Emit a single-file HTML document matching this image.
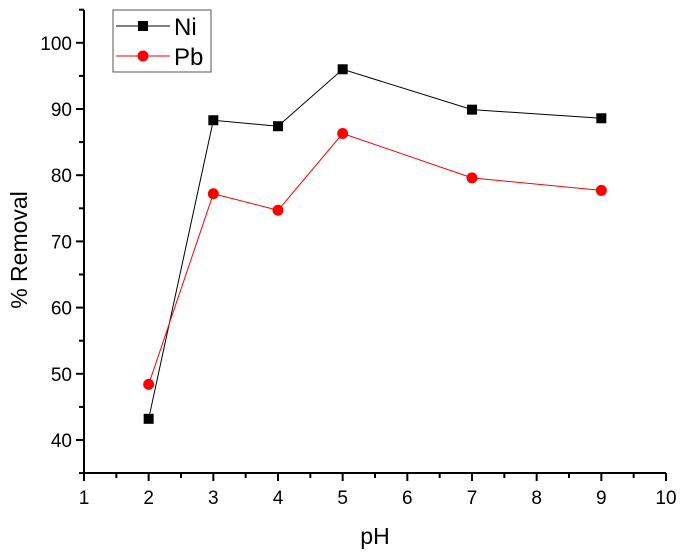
<!DOCTYPE html>
<html><head><meta charset="utf-8"><style>
html,body{margin:0;padding:0;background:#fff}
svg{display:block;font-family:"Liberation Sans",Arial,sans-serif}
</style></head><body>
<svg id="chart" width="685" height="557"></svg>
<script>
const xCats=[2,3,4,5,7,9];
const niVals=[43.2,88.3,87.4,96.0,89.9,88.6];
const pbVals=[48.4,77.2,74.7,86.3,79.6,77.7];
const xTicks=[1,2,3,4,5,6,7,8,9,10];
const yTicks=[40,50,60,70,80,90,100];
const NS="http://www.w3.org/2000/svg";
const svg=document.getElementById('chart');
const x0=84,x1=666,y0=473,yTop=10;
const X=v=>x0+(v-1)*(x1-x0)/9;
const Y=v=>440-(v-40)*6.62;
function mk(t,a,p){const e=document.createElementNS(NS,t);for(const k in a)e.setAttribute(k,a[k]);(p||svg).appendChild(e);return e;}
let ax=mk('g',{});


mk('line',{x1:x0,y1:y0,x2:x1,y2:y0,stroke:'#000','stroke-width':2},ax);
mk('line',{x1:x0,y1:y0,x2:x0,y2:yTop,stroke:'#000','stroke-width':2},ax);
for(let v=1;v<=10;v+=0.5){const maj=Number.isInteger(v);mk('line',{x1:X(v),y1:y0,x2:X(v),y2:y0+(maj?8:5),stroke:'#000','stroke-width':2},ax);}
xTicks.forEach(v=>{const t=mk('text',{x:X(v),y:y0+31,'text-anchor':'middle','font-size':19},ax);t.textContent=v;
});
for(let v=35;v<=105;v+=5){const maj=v%10===0;mk('line',{x1:x0,y1:Y(v),x2:x0-(maj?8:5),y2:Y(v),stroke:'#000','stroke-width':2},ax);}
yTicks.forEach(v=>{const t=mk('text',{x:x0-12,y:Y(v)+7,'text-anchor':'end','font-size':19},ax);t.textContent=v;
});
let xt=mk('text',{x:375,y:544,'text-anchor':'middle','font-size':23});xt.textContent='pH';

let yt=mk('text',{x:0,y:0,'text-anchor':'middle','font-size':23,transform:'translate(27,250) rotate(-90)'});yt.textContent='% Removal';

function series(vals,color,shape,name){
  const g=mk('g',{});
  
  mk('polyline',{points:xCats.map((c,i)=>X(c)+','+Y(vals[i])).join(' '),fill:'none',stroke:color,'stroke-width':1},g);
  xCats.forEach((c,i)=>{let m;
    if(shape==='sq')m=mk('rect',{x:X(c)-5,y:Y(vals[i])-5,width:10,height:10,fill:color},g);
    else m=mk('circle',{cx:X(c),cy:Y(vals[i]),r:5.5,fill:color},g);
    });
}
series(niVals,'#000','sq','ni');
series(pbVals,'#ff0000','ci','pb');
const lg=mk('g',{});

mk('rect',{x:113,y:10,width:98,height:62,fill:'#fff',stroke:'#555','stroke-width':1},lg);
mk('line',{x1:116,y1:26,x2:170,y2:26,stroke:'#000'},lg);
mk('rect',{x:138,y:21,width:10,height:10,fill:'#000'},lg);
let t1=mk('text',{x:174,y:35,'font-size':24},lg);t1.textContent='Ni';
mk('line',{x1:116,y1:56,x2:170,y2:56,stroke:'#ff0000'},lg);
mk('circle',{cx:143,cy:56,r:5.5,fill:'#ff0000'},lg);
let t2=mk('text',{x:174,y:65,'font-size':24},lg);t2.textContent='Pb';
</script>
</body></html>
